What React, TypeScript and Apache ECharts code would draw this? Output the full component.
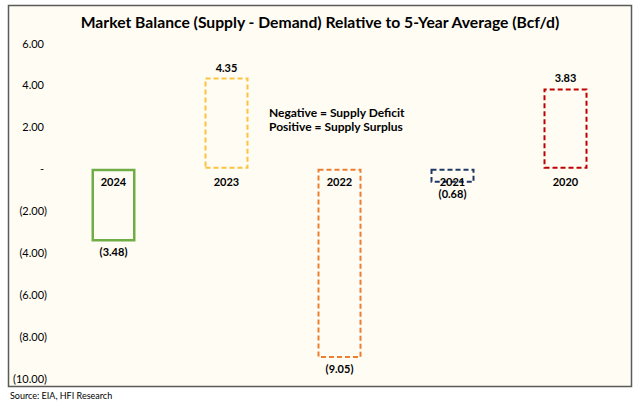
import React, { useEffect, useRef } from "react";
import * as echarts from "echarts";

const categories = ["2024", "2023", "2022", "2021", "2020"];
const values = [-3.48, 4.35, -9.05, -0.68, 3.83];
const barColors = ["#70AD47", "#F9C440", "#ED7D31", "#1F3864", "#C00000"];
const barDashed = [false, true, true, true, true];
const yMin = -10;
const yMax = 6;
const yInterval = 2;
const titleText = "Market Balance (Supply - Demand) Relative to 5-Year Average (Bcf/d)";
const noteLines = ["Negative = Supply Deficit", "Positive = Supply Surplus"];
const sourceText = "Source: EIA, HFI Research";

const FONT = "Lato, 'Open Sans', sans-serif";

function fmt(v: number): string {
  if (v === 0) return "-";
  const s = Math.abs(v).toFixed(2);
  return v < 0 ? `(${s})` : s;
}

export default function App() {
  const ref = useRef<HTMLDivElement>(null);
  useEffect(() => {
    if (!ref.current) return;
    const chart = echarts.init(ref.current, undefined, { renderer: "svg" });
    chart.setOption({
      animation: false,
      backgroundColor: "#FFFFFF",
      graphic: [
        {
          type: "rect",
          z: -10,
          shape: { x: 8.5, y: 5.5, width: 623, height: 381 },
          style: { fill: "#FFFCF4", stroke: "#5A5A5A", lineWidth: 1.5 },
        },
        {
          type: "text",
          x: 320,
          y: 22,
          style: {
            text: titleText,
            fontFamily: FONT,
            fontWeight: "bold",
            fontSize: 15.7,
            fill: "#000",
            align: "center",
            verticalAlign: "middle",
          },
        },
        {
          type: "text",
          x: 269,
          y: 119,
          style: {
            text: noteLines.join("\n"),
            fontFamily: FONT,
            fontWeight: "bold",
            fontSize: 12,
            lineHeight: 14,
            fill: "#000",
            align: "left",
            verticalAlign: "middle",
          },
        },
        {
          type: "text",
          x: 10,
          y: 395,
          style: {
            text: sourceText,
            fontFamily: FONT,
            fontSize: 9,
            fill: "#000",
            align: "left",
            verticalAlign: "middle",
          },
        },
      ],
      grid: { left: 57, right: 18, top: 43, bottom: 26, containLabel: false },
      xAxis: {
        type: "category",
        data: categories,
        axisLine: { show: false },
        axisTick: { show: false },
        axisLabel: { show: false },
        splitLine: { show: false },
      },
      yAxis: {
        type: "value",
        min: yMin,
        max: yMax,
        interval: yInterval,
        axisLine: { show: false },
        axisTick: { show: false },
        splitLine: { show: false },
        axisLabel: {
          margin: 10,
          fontFamily: FONT,
          fontSize: 11,
          color: "#000",
          formatter: (v: number) => (v < 0 ? fmt(v) : `{p|${fmt(v)}}`),
          rich: {
            p: { padding: [0, 3, 0, 0], fontFamily: FONT, fontSize: 11, color: "#000" },
          },
        },
      },
      series: [
        {
          type: "bar",
          barWidth: 44,
          barGap: "-100%",
          data: values.map((v, i) => ({
            value: v,
            itemStyle: {
              color: "rgba(0,0,0,0)",
              borderColor: barColors[i],
              borderWidth: barDashed[i] ? 2 : 2.5,
              borderType: barDashed[i] ? [5, 3] : "solid",
            },
            label: {
              show: true,
              position: v >= 0 ? "top" : "bottom",
              distance: 5,
              formatter: () => fmt(v),
              fontFamily: FONT,
              fontWeight: "bold",
              fontSize: 11,
              color: "#000",
            },
          })),
        },
        {
          type: "bar",
          barWidth: 44,
          barGap: "-100%",
          silent: true,
          z: 5,
          itemStyle: { color: "rgba(0,0,0,0)", borderWidth: 0 },
          data: categories.map(() => 0),
          label: {
            show: true,
            position: "bottom",
            distance: 7,
            formatter: (p: any) => p.name,
            fontFamily: FONT,
            fontWeight: "bold",
            fontSize: 11,
            color: "#000",
          },
        },
      ],
    });
    return () => chart.dispose();
  }, []);
  return (
    <div
      ref={ref}
      style={{ position: "fixed", left: 0, top: 0, width: 640, height: 404 }}
    />
  );
}
